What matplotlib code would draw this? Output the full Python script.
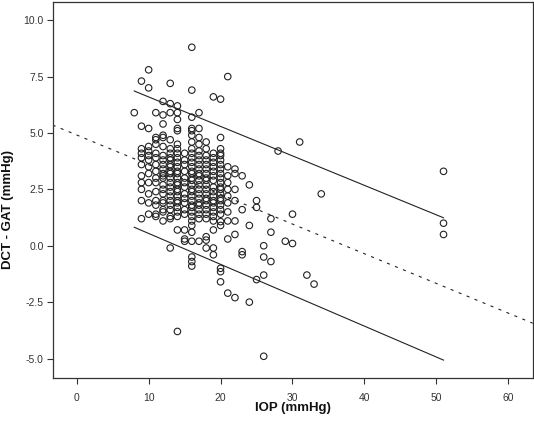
import matplotlib
matplotlib.use("Agg")
import matplotlib.pyplot as plt
import numpy as np

# ---- data ----
cols = {
    8: [5.9],
    9: [7.3, 5.3, 4.3, 4.1, 3.9, 3.6, 3.1, 2.8, 2.5, 2.0, 1.2],
    10: [7.8, 7.0, 5.2, 4.4, 4.2, 4.0, 3.8, 3.5, 3.2, 2.8, 2.3, 1.9, 1.4],
    11: [5.9, 4.8, 4.7, 4.5, 4.1, 3.9, 3.6, 3.3, 3.0, 2.8, 2.4, 2.0, 1.8, 1.4, 1.3],
    12: [6.4, 5.8, 5.4, 4.9, 4.8, 4.4, 4.0, 3.8, 3.6, 3.4, 3.2, 3.1, 3.0, 2.7, 2.5,
         2.3, 2.0, 1.9, 1.6, 1.5, 1.1],
    13: [7.2, 6.3, 5.9, 4.7, 4.3, 4.1, 3.9, 3.8, 3.6, 3.5, 3.3, 3.2, 3.0, 2.8, 2.6,
         2.4, 2.2, 2.0, 1.8, 1.6, 1.3, 1.2, -0.1],
    14: [6.2, 5.9, 5.6, 5.2, 5.1, 4.5, 4.3, 4.1, 3.9, 3.7, 3.5, 3.3, 3.2, 3.0, 2.8,
         2.7, 2.5, 2.4, 2.2, 2.0, 1.9, 1.7, 1.5, 1.3, 0.7, -3.8],
    15: [4.1, 3.8, 3.6, 3.3, 3.0, 2.8, 2.6, 2.3, 2.1, 1.9, 1.6, 1.4, 0.7, 0.3, 0.2],
    16: [8.8, 6.9, 5.7, 5.2, 5.1, 4.9, 4.6, 4.3, 4.1, 3.9, 3.7, 3.5, 3.3, 3.2, 3.0,
         2.9, 2.7, 2.5, 2.4, 2.2, 2.0, 1.8, 1.7, 1.5, 1.3, 1.1, 0.9, 0.6, 0.2,
         -0.5, -0.7, -0.9],
    17: [5.9, 5.2, 4.8, 4.5, 4.2, 4.0, 3.8, 3.6, 3.4, 3.2, 3.1, 2.9, 2.7, 2.5, 2.3,
         2.1, 1.9, 1.8, 1.6, 1.4, 1.2, 0.2],
    18: [4.6, 4.3, 4.0, 3.8, 3.6, 3.4, 3.2, 3.0, 2.9, 2.7, 2.5, 2.3, 2.1, 2.0, 1.8,
         1.6, 1.4, 1.2, 0.4, 0.25, -0.1],
    19: [6.6, 4.1, 3.9, 3.7, 3.5, 3.3, 3.1, 2.9, 2.6, 2.4, 2.2, 2.0, 1.9, 1.7, 1.5,
         1.3, 1.1, 0.7, -0.1, -0.4],
    20: [6.5, 4.8, 4.3, 4.1, 4.0, 3.8, 3.6, 3.4, 3.2, 3.0, 2.8, 2.6, 2.5, 2.3, 2.1,
         2.0, 1.8, 1.6, 1.4, 1.07, 0.9, -1.0, -1.15, -1.6],
    21: [7.5, 3.5, 3.1, 2.8, 2.5, 2.2, 1.9, 1.5, 1.1, 0.3, -2.1],
    22: [3.4, 3.2, 2.5, 2.0, 1.1, 0.5, -2.3],
    23: [3.1, 1.6, -0.26, -0.4],
    24: [2.7, 0.9, -2.5],
    25: [2.0, 1.7, -1.5],
    26: [0.0, -0.5, -1.3, -4.9],
    27: [1.2, 0.6, -0.7],
    28: [4.2],
    29: [0.2],
    30: [1.4, 0.1],
    31: [4.6],
    32: [-1.3],
    33: [-1.7],
    34: [2.3],
    51: [3.3, 1.0, 0.5],
}
iop = [k for k, v in cols.items() for _ in v]
diff = [d for v in cols.values() for d in v]

reg_intercept = 4.91
reg_slope = -0.1316
limit_x = [8, 51]
upper_y = [6.86, 1.24]
lower_y = [0.82, -5.07]

xticks = [0, 10, 20, 30, 40, 50, 60]
yticks = [-5.0, -2.5, 0.0, 2.5, 5.0, 7.5, 10.0]

# ---- plot ----
plt.rcParams['font.family'] = ['Liberation Sans', 'DejaVu Sans']
plt.rcParams['lines.scale_dashes'] = False

fig = plt.figure(figsize=(5.34, 4.25), dpi=100)
ax = fig.add_axes([52.7 / 534, 1 - 377.7 / 425, 480 / 534, 376 / 425])

ax.scatter(iop, diff, s=22, facecolors='none', edgecolors='#222222', linewidths=0.8, zorder=3)
ax.axline((0, reg_intercept), slope=reg_slope, color='#222222', lw=0.8,
          linestyle=(0, (2.2, 4.0)))
ax.plot(limit_x, upper_y, color='#222222', lw=0.8)
ax.plot(limit_x, lower_y, color='#222222', lw=0.8)

ax.set_xlim(-3.34, 63.4)
ax.set_ylim(-5.85, 10.82)
ax.set_xticks(xticks)
ax.set_yticks(yticks)
ax.set_xticklabels([str(t) for t in xticks])
ax.set_yticklabels([f"{t:.1f}" for t in yticks])

for sp in ax.spines.values():
    sp.set_linewidth(0.9)
    sp.set_color('#333333')
ax.tick_params(axis='both', direction='out', length=4, width=0.8, color='#333333',
               labelsize=7.5, labelcolor='#333333')
ax.tick_params(axis='x', pad=7)
ax.tick_params(axis='y', pad=2.5)

fig.text(292.7 / 534, 1 - 408 / 425, 'IOP (mmHg)', ha='center', va='center',
         fontsize=9.5, fontweight='bold', color='#111111')
fig.text(8 / 534, 1 - 209.5 / 425, 'DCT - GAT (mmHg)', ha='center', va='center',
         rotation=90, fontsize=9.5, fontweight='bold', color='#111111')

fig.savefig('out.png', dpi=100)
